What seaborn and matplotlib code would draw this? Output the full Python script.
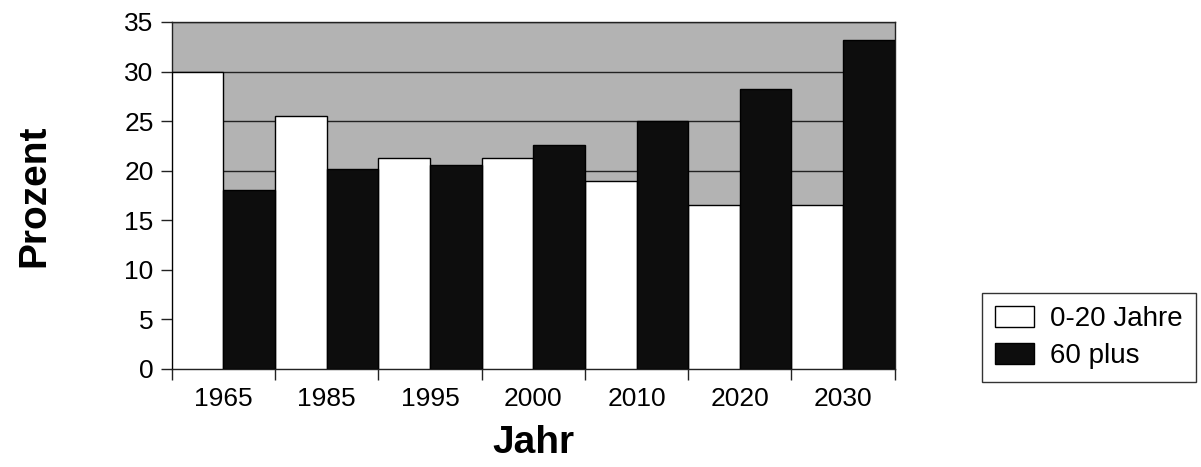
import matplotlib
matplotlib.use("Agg")
import matplotlib.pyplot as plt
import seaborn as sns
import pandas as pd

years = ["1965", "1985", "1995", "2000", "2010", "2020", "2030"]
young = [30.0, 25.5, 21.3, 21.3, 19.0, 16.5, 16.5]
old = [18.0, 20.2, 20.6, 22.6, 25.0, 28.2, 33.2]
series_names = ["0-20 Jahre", "60 plus"]

df = pd.DataFrame({
    "Jahr": years * 2,
    "Prozent": young + old,
    "Gruppe": [series_names[0]] * len(years) + [series_names[1]] * len(years),
})

sns.set_theme(style="white")
plt.rcParams["font.family"] = ["Liberation Sans", "DejaVu Sans"]
plt.rcParams["text.color"] = "black"
plt.rcParams["axes.labelcolor"] = "black"
plt.rcParams["xtick.color"] = "black"
plt.rcParams["ytick.color"] = "black"

fig = plt.figure(figsize=(12.01, 4.67), dpi=100)
ax = fig.add_axes([0.143, 0.210, 0.602, 0.743])
ax.set_facecolor("#b3b3b3")

sns.barplot(data=df, x="Jahr", y="Prozent", hue="Gruppe",
            palette=["white", "#0d0d0d"], edgecolor="black", linewidth=1.0,
            width=1.0, saturation=1, ax=ax, zorder=3)

ax.set_ylim(0, 35)
ax.set_xlim(-0.5, 6.5)
ax.set_yticks(range(0, 36, 5))
ax.yaxis.grid(True, color="#222222", linewidth=1.0, zorder=0)
ax.set_axisbelow(True)
for s in ax.spines.values():
    s.set_color("#222222")
    s.set_linewidth(1.0)

ax.tick_params(axis="y", which="major", left=True, length=8, width=1, color="#222222",
               labelsize=19, pad=5)
ax.tick_params(axis="x", which="major", bottom=False, labelsize=19, pad=7)
ax.set_xticks([i + 0.5 for i in range(-1, 7)], minor=True)
ax.tick_params(axis="x", which="minor", bottom=True, length=8, width=1, color="#222222")

ax.set_xlabel("Jahr", fontsize=28, fontweight="bold", labelpad=10)
ax.set_ylabel("Prozent", fontsize=28, fontweight="bold", labelpad=52)

ax.get_legend().remove()
handles, labels = ax.get_legend_handles_labels()
leg = fig.legend(handles, labels, loc="upper left", bbox_to_anchor=(0.818, 0.372),
                 frameon=True, fontsize=20, handlelength=1.4, handleheight=0.8,
                 handletextpad=0.6, borderpad=0.45, labelspacing=0.4, fancybox=False,
                 borderaxespad=0)
leg.get_frame().set_edgecolor("black")
leg.get_frame().set_linewidth(1.0)

fig.savefig("out.png", dpi=100, facecolor="white")
